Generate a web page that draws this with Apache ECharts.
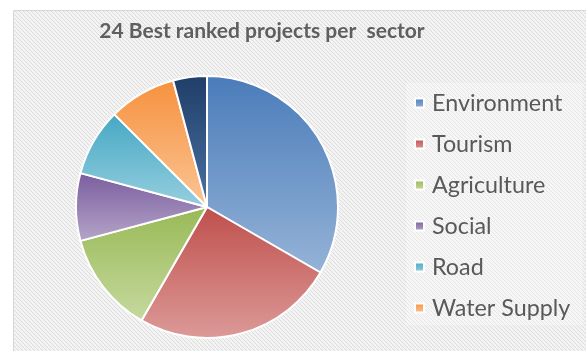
<!DOCTYPE html>
<html>
<head>
<meta charset="utf-8">
<script src="https://cdn.jsdelivr.net/npm/echarts@6/dist/echarts.min.js"></script>
<style>
  html, body { margin: 0; padding: 0; background: #ffffff; }
  #chart { width: 586px; height: 351px; }
</style>
</head>
<body>
<div id="chart"></div>
<script>
// Project counts per sector (24 projects in total)
const sectors = ['Environment', 'Tourism', 'Agriculture', 'Social', 'Road', 'Water Supply', 'Other'];
const projectCounts = [8, 6, 3, 2, 2, 2, 1];
const legendSectors = ['Environment', 'Tourism', 'Agriculture', 'Social', 'Road', 'Water Supply'];
const titleText = '24 Best ranked projects per  sector';

// Top/bottom shades for each slice's vertical gradient
const topShades = ['#4a7cba', '#bf4f4c', '#98b955', '#7a5d9e', '#45a8c3', '#f6913e', '#1f3e68'];
const bottomShades = ['#95b3d7', '#dc9a98', '#c6d99f', '#b5a5c9', '#97cfdf', '#fbc595', '#4b72a3'];

// Diagonal hatch used for the chart panel
function hatchPattern() {
  const c = document.createElement('canvas');
  c.width = 4; c.height = 4;
  const g = c.getContext('2d');
  g.fillStyle = '#f3f3f3';
  g.fillRect(0, 0, 4, 4);
  g.fillStyle = '#dcdcdc';
  for (let i = 0; i < 4; i++) g.fillRect(i, i, 1, 1);
  return c;
}

const chart = echarts.init(document.getElementById('chart'), null, { renderer: 'canvas' });

const pieData = sectors.map((name, i) => ({
  name: name,
  value: projectCounts[i],
  itemStyle: {
    color: new echarts.graphic.LinearGradient(0, 0, 0, 1, [
      { offset: 0, color: topShades[i] },
      { offset: 1, color: bottomShades[i] }
    ])
  }
}));

chart.setOption({
  animation: false,
  backgroundColor: '#ffffff',
  graphic: [
    {
      type: 'rect',
      z: -10,
      shape: { x: 13.5, y: 10.5, width: 600, height: 360 },
      style: { fill: { image: hatchPattern(), repeat: 'repeat' }, stroke: '#d6d6d6', lineWidth: 1 }
    },
    {
      type: 'rect',
      z: -9,
      shape: { x: 406, y: 83, width: 177, height: 242 },
      style: { fill: 'rgba(255,255,255,0.3)' }
    }
  ],
  title: {
    text: titleText,
    left: 257,
    top: 16,
    textAlign: 'center',
    textStyle: {
      fontFamily: 'Lato',
      fontWeight: 'bold',
      fontSize: 21,
      color: '#5f5f5f'
    }
  },
  legend: {
    orient: 'vertical',
    left: 414,
    top: 91,
    padding: 0,
    data: legendSectors,
    icon: 'rect',
    itemWidth: 9,
    itemHeight: 9,
    itemGap: 17,
    selectedMode: false,
    textStyle: {
      fontFamily: 'Lato',
      fontSize: 23.3,
      color: '#595959',
      lineHeight: 24,
      padding: [0, 0, 0, 3]
    }
  },
  series: [{
    type: 'pie',
    center: [207, 207],
    radius: 131,
    startAngle: 90,
    clockwise: true,
    label: { show: false },
    labelLine: { show: false },
    emphasis: { disabled: true },
    itemStyle: { borderColor: '#ffffff', borderWidth: 2 },
    data: pieData
  }]
});
</script>
</body>
</html>
